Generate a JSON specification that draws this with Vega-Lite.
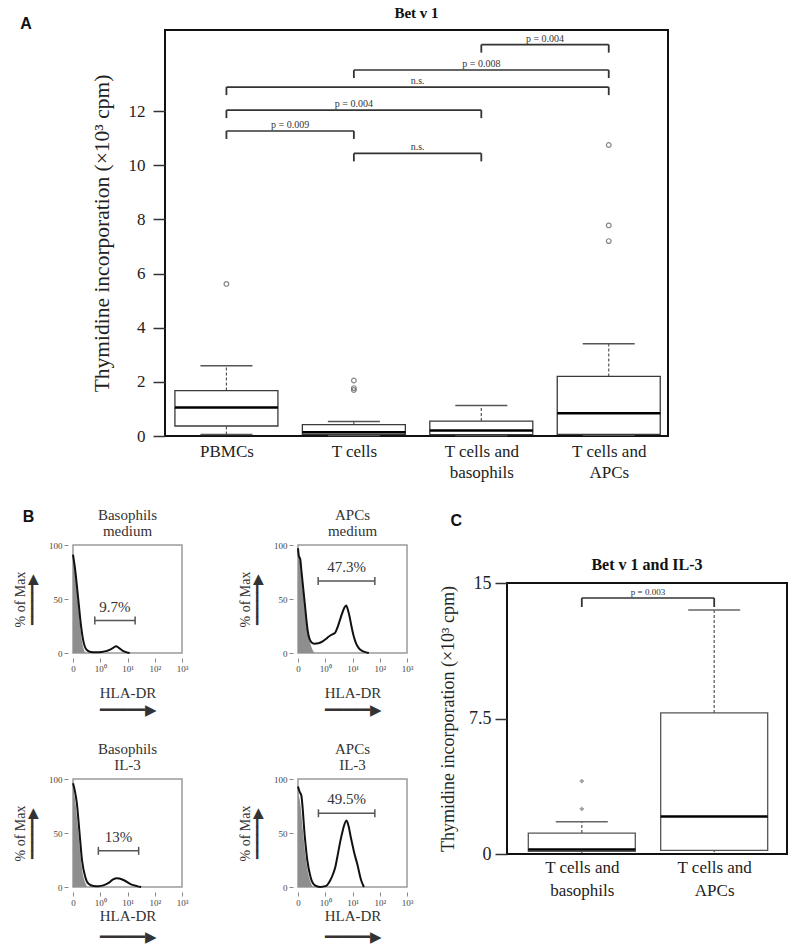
{
  "$schema": "https://vega.github.io/schema/vega-lite/v6.json",
  "background": "white",
  "padding": {"top": 5, "left": 12, "right": 5, "bottom": 4},
  "config": {
    "font": "Liberation Serif",
    "view": {"stroke": "#111", "strokeWidth": 2},
    "axis": {"grid": false, "domain": false, "labelColor": "#222", "titleColor": "#222", "tickColor": "#333", "labelFont": "Liberation Serif", "titleFont": "Liberation Serif", "titleFontWeight": "normal"},
    "title": {"font": "Liberation Serif", "fontWeight": "bold", "color": "#111"},
    "text": {"font": "Liberation Serif"}
  },
  "datasets": {
    "boxA": [
      {"cat": 1, "lo": 0.06, "q1": 0.37, "med": 1.05, "q3": 1.68, "hi": 2.6},
      {"cat": 2, "lo": 0.02, "q1": 0.06, "med": 0.14, "q3": 0.42, "hi": 0.54},
      {"cat": 3, "lo": 0.02, "q1": 0.05, "med": 0.2, "q3": 0.55, "hi": 1.13},
      {"cat": 4, "lo": 0.03, "q1": 0.06, "med": 0.84, "q3": 2.2, "hi": 3.41}
    ],
    "outA": [
      {"cat": 1, "v": 5.62}, {"cat": 2, "v": 1.7}, {"cat": 2, "v": 1.77}, {"cat": 2, "v": 2.05},
      {"cat": 4, "v": 7.2}, {"cat": 4, "v": 7.78}, {"cat": 4, "v": 10.75}
    ],
    "brA": [
      {"x1": 3, "x2": 4, "y": 14.46, "label": "p = 0.004"},
      {"x1": 2, "x2": 4, "y": 13.52, "label": "p = 0.008"},
      {"x1": 1, "x2": 4, "y": 12.89, "label": "n.s."},
      {"x1": 1, "x2": 3, "y": 12.04, "label": "p = 0.004"},
      {"x1": 1, "x2": 2, "y": 11.27, "label": "p = 0.009"},
      {"x1": 2, "x2": 3, "y": 10.44, "label": "n.s."}
    ],
    "boxC": [
      {"cat": 1, "lo": 0.05, "q1": 0.15, "med": 0.25, "q3": 1.16, "hi": 1.79},
      {"cat": 2, "lo": 0.1, "q1": 0.2, "med": 2.08, "q3": 7.81, "hi": 13.5}
    ],
    "outC": [{"cat": 1, "v": 2.5}, {"cat": 1, "v": 4.03}],
    "brC": [{"x1": 1, "x2": 2, "y": 14.17, "label": "p = 0.003"}],
    "bm_test": [{"x":0,"y":91},{"x":0.08,"y":77},{"x":0.2,"y":48},{"x":0.29,"y":26},{"x":0.38,"y":11},{"x":0.5,"y":3},{"x":0.65,"y":1},{"x":0.85,"y":0.6},{"x":1.05,"y":1},{"x":1.25,"y":2},{"x":1.4,"y":3.5},{"x":1.5,"y":5.3},{"x":1.58,"y":6.2},{"x":1.68,"y":4.8},{"x":1.8,"y":2.5},{"x":1.95,"y":0.8},{"x":2.08,"y":0}],
    "bm_iso": [{"x":0,"y":88},{"x":0.08,"y":75},{"x":0.18,"y":48},{"x":0.26,"y":26},{"x":0.33,"y":11},{"x":0.4,"y":3},{"x":0.46,"y":0}],
    "am_test": [{"x":0,"y":97},{"x":0.03,"y":90},{"x":0.08,"y":87},{"x":0.13,"y":75},{"x":0.24,"y":48},{"x":0.36,"y":20},{"x":0.49,"y":10},{"x":0.6,"y":8.6},{"x":0.75,"y":9},{"x":0.92,"y":11},{"x":1.05,"y":13.5},{"x":1.17,"y":16},{"x":1.28,"y":17.5},{"x":1.36,"y":18.6},{"x":1.44,"y":23},{"x":1.52,"y":29},{"x":1.61,"y":36},{"x":1.7,"y":42},{"x":1.77,"y":44},{"x":1.83,"y":40},{"x":1.89,"y":34},{"x":1.96,"y":25},{"x":2.04,"y":16},{"x":2.13,"y":9},{"x":2.23,"y":4.5},{"x":2.35,"y":2},{"x":2.48,"y":0.8},{"x":2.6,"y":0}],
    "am_iso": [{"x":0,"y":90},{"x":0.05,"y":88},{"x":0.12,"y":72},{"x":0.22,"y":48},{"x":0.32,"y":25},{"x":0.42,"y":12},{"x":0.5,"y":5},{"x":0.58,"y":1},{"x":0.62,"y":0}],
    "bi_test": [{"x":0,"y":96},{"x":0.06,"y":90},{"x":0.14,"y":78},{"x":0.24,"y":50},{"x":0.33,"y":25},{"x":0.45,"y":9.3},{"x":0.57,"y":3},{"x":0.75,"y":1},{"x":0.95,"y":0.8},{"x":1.11,"y":1.5},{"x":1.29,"y":3.5},{"x":1.47,"y":7},{"x":1.6,"y":8.2},{"x":1.7,"y":7.8},{"x":1.89,"y":6},{"x":2.13,"y":2.5},{"x":2.35,"y":0.8},{"x":2.5,"y":0}],
    "bi_iso": [{"x":0,"y":93},{"x":0.08,"y":80},{"x":0.18,"y":55},{"x":0.27,"y":30},{"x":0.36,"y":12},{"x":0.45,"y":4},{"x":0.52,"y":0}],
    "ai_test": [{"x":0,"y":93},{"x":0.06,"y":88},{"x":0.12,"y":85},{"x":0.25,"y":46.6},{"x":0.34,"y":25},{"x":0.46,"y":9.3},{"x":0.62,"y":1.5},{"x":0.81,"y":0},{"x":1.03,"y":1},{"x":1.18,"y":6},{"x":1.3,"y":13},{"x":1.37,"y":18.6},{"x":1.46,"y":30},{"x":1.55,"y":42},{"x":1.62,"y":50},{"x":1.68,"y":56},{"x":1.78,"y":61.5},{"x":1.86,"y":56},{"x":1.93,"y":47},{"x":1.99,"y":40},{"x":2.08,"y":30},{"x":2.17,"y":21.7},{"x":2.32,"y":6},{"x":2.42,"y":0}],
    "ai_iso": [{"x":0,"y":88},{"x":0.08,"y":78},{"x":0.18,"y":52},{"x":0.28,"y":28},{"x":0.38,"y":12},{"x":0.47,"y":4},{"x":0.55,"y":0}],
    "gates": [
      {"panel": "bm", "x1": 0.8, "x2": 2.28, "y": 30, "label": "9.7%"},
      {"panel": "am", "x1": 0.74, "x2": 2.82, "y": 66.6, "label": "47.3%"},
      {"panel": "bi", "x1": 0.93, "x2": 2.41, "y": 33.5, "label": "13%"},
      {"panel": "ai", "x1": 0.75, "x2": 2.82, "y": 68.3, "label": "49.5%"}
    ]
  },
  "columns": 1,
  "align": "none",
  "spacing": 25,
  "concat": [
    {
      "title": {"text": "A", "anchor": "start", "frame": "bounds", "font": "Liberation Sans", "fontSize": 16, "fontWeight": "bold", "color": "#111", "dx": -52.7, "dy": 27, "offset": 0},
      "spacing": 16,
      "hconcat": [
        {"width": 1, "height": 1, "view": {"stroke": null}, "data": {"values": []}, "mark": "point"},
        {
          "width": 503, "height": 406,
          "title": {"text": "Bet v 1", "fontSize": 15, "offset": 9},
          "layer": [
            {"data": {"name": "boxA"},
             "mark": {"type": "rule", "color": "#555", "strokeWidth": 1.2, "strokeDash": [3, 2]},
             "encoding": {
               "x": {"field": "cat", "type": "quantitative", "scale": {"domain": [0.518, 4.465], "nice": false, "zero": false},
                     "axis": {"values": [1, 2, 3, 4], "tickCount": 10, "ticks": false, "labelPadding": 7, "labelFontSize": 17, "labelLineHeight": 21.5, "labelOverlap": false, "labelFlush": false, "title": null,
                              "labelExpr": "datum.value == 1 ? 'PBMCs' : datum.value == 2 ? 'T cells' : datum.value == 3 ? ['T  cells and', 'basophils'] : ['T  cells and', 'APCs']"}},
               "y": {"field": "q3", "type": "quantitative", "scale": {"domain": [0, 15], "nice": false},
                     "axis": {"values": [0, 2, 4, 6, 8, 10, 12], "tickCount": 20, "tickSize": 12, "tickWidth": 1.5, "labelPadding": 8, "labelFontSize": 17, "title": "Thymidine incorporation (×10³ cpm)", "titleFontSize": 21.5, "titlePadding": 15}},
               "y2": {"field": "hi"}
             }},
            {"data": {"name": "boxA"},
             "mark": {"type": "rule", "color": "#555", "strokeWidth": 1.2, "strokeDash": [3, 2]},
             "encoding": {"x": {"field": "cat", "type": "quantitative"}, "y": {"field": "lo", "type": "quantitative"}, "y2": {"field": "q1"}}},
            {"data": {"name": "boxA"},
             "mark": {"type": "rule", "color": "#555", "strokeWidth": 1.5, "xOffset": -26, "x2Offset": 26},
             "encoding": {"x": {"field": "cat", "type": "quantitative"}, "x2": {"field": "cat"}, "y": {"field": "hi", "type": "quantitative"}}},
            {"data": {"name": "boxA"},
             "mark": {"type": "rule", "color": "#555", "strokeWidth": 1.5, "xOffset": -26, "x2Offset": 26},
             "encoding": {"x": {"field": "cat", "type": "quantitative"}, "x2": {"field": "cat"}, "y": {"field": "lo", "type": "quantitative"}}},
            {"data": {"name": "boxA"},
             "mark": {"type": "rect", "fill": "white", "stroke": "#3a3a3a", "strokeWidth": 1.3, "xOffset": -51.5, "x2Offset": 51.5},
             "encoding": {"x": {"field": "cat", "type": "quantitative"}, "x2": {"field": "cat"}, "y": {"field": "q1", "type": "quantitative"}, "y2": {"field": "q3"}}},
            {"data": {"name": "boxA"},
             "mark": {"type": "rule", "color": "#000", "strokeWidth": 2.5, "xOffset": -51.5, "x2Offset": 51.5},
             "encoding": {"x": {"field": "cat", "type": "quantitative"}, "x2": {"field": "cat"}, "y": {"field": "med", "type": "quantitative"}}},
            {"data": {"name": "outA"},
             "mark": {"type": "point", "shape": "circle", "size": 22, "color": "#555", "strokeWidth": 1.2, "filled": false},
             "encoding": {"x": {"field": "cat", "type": "quantitative"}, "y": {"field": "v", "type": "quantitative"}}},
            {"data": {"name": "brA"},
             "mark": {"type": "rule", "color": "#333", "strokeWidth": 1.6},
             "encoding": {"x": {"field": "x1", "type": "quantitative"}, "x2": {"field": "x2"}, "y": {"field": "y", "type": "quantitative"}}},
            {"data": {"name": "brA"},
             "mark": {"type": "rule", "color": "#333", "strokeWidth": 1.8, "y2Offset": 8},
             "encoding": {"x": {"field": "x1", "type": "quantitative"}, "y": {"field": "y", "type": "quantitative"}, "y2": {"field": "y"}}},
            {"data": {"name": "brA"},
             "mark": {"type": "rule", "color": "#333", "strokeWidth": 1.8, "y2Offset": 8},
             "encoding": {"x": {"field": "x2", "type": "quantitative"}, "y": {"field": "y", "type": "quantitative"}, "y2": {"field": "y"}}},
            {"data": {"name": "brA"},
             "transform": [{"calculate": "(datum.x1 + datum.x2) / 2", "as": "xm"}],
             "mark": {"type": "text", "fontSize": 10, "color": "#333", "baseline": "bottom", "dy": -1},
             "encoding": {"x": {"field": "xm", "type": "quantitative"}, "y": {"field": "y", "type": "quantitative"}, "text": {"field": "label"}}}
          ]
        }
      ]
    },
    {
      "columns": 2,
      "align": "none",
      "spacing": 24,
      "concat": [
        {
          "title": {"text": "B", "anchor": "start", "frame": "bounds", "font": "Liberation Sans", "fontSize": 16, "fontWeight": "bold", "color": "#111", "dx": 10, "dy": 18, "offset": 0},
          "columns": 2,
          "spacing": {"column": 48, "row": 23},
          "concat": [
            {
              "width": 109, "height": 108,
              "view": {"stroke": "#9a9a9a", "strokeWidth": 1.5},
              "title": {"text": ["Basophils", "medium"], "fontSize": 15, "fontWeight": "normal", "color": "#333", "lineHeight": 16.6, "offset": 1.5},
              "layer": [
                {"data": {"name": "bm_iso"}, "mark": {"type": "area", "color": "#8e8e8e", "interpolate": "monotone"},
                 "encoding": {
                   "x": {"field": "x", "type": "quantitative", "scale": {"domain": [0, 4], "nice": false},
                         "axis": {"values": [0, 1, 2, 3, 4], "tickCount": 10, "labelExpr": "['0','10⁰','10¹','10²','10³'][datum.value]", "labelFontSize": 9, "labelColor": "#444", "tickSize": 4, "tickColor": "#888", "offset": 5, "labelPadding": 2, "labelFlush": false, "labelOverlap": false, "title": ["HLA-DR", "━━━━━▶"], "titleFontSize": 15, "titleColor": "#333", "titlePadding": 12, "titleLineHeight": 17}},
                   "y": {"field": "y", "type": "quantitative", "scale": {"domain": [0, 100], "nice": false},
                         "axis": {"values": [0, 50, 100], "tickCount": 10, "labelFontSize": 9, "labelColor": "#444", "tickSize": 4, "tickColor": "#888", "offset": 5, "labelPadding": 2, "title": ["% of Max", "━━━━━▶"], "titleFontSize": 14, "titleColor": "#333", "titlePadding": 9, "titleLineHeight": 12}}
                 }},
                {"data": {"name": "bm_test"}, "mark": {"type": "line", "color": "#111", "strokeWidth": 2, "interpolate": "monotone"},
                 "encoding": {"x": {"field": "x", "type": "quantitative"}, "y": {"field": "y", "type": "quantitative"}}},
                {"data": {"name": "gates"}, "transform": [{"filter": "datum.panel == 'bm'"}], "mark": {"type": "rule", "color": "#555", "strokeWidth": 1.5},
                 "encoding": {"x": {"field": "x1", "type": "quantitative"}, "x2": {"field": "x2"}, "y": {"field": "y", "type": "quantitative"}}},
                {"data": {"name": "gates"}, "transform": [{"filter": "datum.panel == 'bm'"}], "mark": {"type": "rule", "color": "#555", "strokeWidth": 1.5, "yOffset": -4, "y2Offset": 4},
                 "encoding": {"x": {"field": "x1", "type": "quantitative"}, "y": {"field": "y", "type": "quantitative"}, "y2": {"field": "y"}}},
                {"data": {"name": "gates"}, "transform": [{"filter": "datum.panel == 'bm'"}], "mark": {"type": "rule", "color": "#555", "strokeWidth": 1.5, "yOffset": -4, "y2Offset": 4},
                 "encoding": {"x": {"field": "x2", "type": "quantitative"}, "y": {"field": "y", "type": "quantitative"}, "y2": {"field": "y"}}},
                {"data": {"name": "gates"}, "transform": [{"filter": "datum.panel == 'bm'"}, {"calculate": "(datum.x1 + datum.x2) / 2", "as": "xm"}],
                 "mark": {"type": "text", "fontSize": 15, "color": "#333", "baseline": "bottom", "dy": -6},
                 "encoding": {"x": {"field": "xm", "type": "quantitative"}, "y": {"field": "y", "type": "quantitative"}, "text": {"field": "label"}}}
              ]
            },
            {
              "width": 109, "height": 108,
              "view": {"stroke": "#9a9a9a", "strokeWidth": 1.5},
              "title": {"text": ["APCs", "medium"], "fontSize": 15, "fontWeight": "normal", "color": "#333", "lineHeight": 16.6, "offset": 1.5},
              "layer": [
                {"data": {"name": "am_iso"}, "mark": {"type": "area", "color": "#8e8e8e", "interpolate": "monotone"},
                 "encoding": {
                   "x": {"field": "x", "type": "quantitative", "scale": {"domain": [0, 4], "nice": false},
                         "axis": {"values": [0, 1, 2, 3, 4], "tickCount": 10, "labelExpr": "['0','10⁰','10¹','10²','10³'][datum.value]", "labelFontSize": 9, "labelColor": "#444", "tickSize": 4, "tickColor": "#888", "offset": 5, "labelPadding": 2, "labelFlush": false, "labelOverlap": false, "title": ["HLA-DR", "━━━━━▶"], "titleFontSize": 15, "titleColor": "#333", "titlePadding": 12, "titleLineHeight": 17}},
                   "y": {"field": "y", "type": "quantitative", "scale": {"domain": [0, 100], "nice": false},
                         "axis": {"values": [0, 50, 100], "tickCount": 10, "labelFontSize": 9, "labelColor": "#444", "tickSize": 4, "tickColor": "#888", "offset": 5, "labelPadding": 2, "title": ["% of Max", "━━━━━▶"], "titleFontSize": 14, "titleColor": "#333", "titlePadding": 9, "titleLineHeight": 12}}
                 }},
                {"data": {"name": "am_test"}, "mark": {"type": "line", "color": "#111", "strokeWidth": 2, "interpolate": "monotone"},
                 "encoding": {"x": {"field": "x", "type": "quantitative"}, "y": {"field": "y", "type": "quantitative"}}},
                {"data": {"name": "gates"}, "transform": [{"filter": "datum.panel == 'am'"}], "mark": {"type": "rule", "color": "#555", "strokeWidth": 1.5},
                 "encoding": {"x": {"field": "x1", "type": "quantitative"}, "x2": {"field": "x2"}, "y": {"field": "y", "type": "quantitative"}}},
                {"data": {"name": "gates"}, "transform": [{"filter": "datum.panel == 'am'"}], "mark": {"type": "rule", "color": "#555", "strokeWidth": 1.5, "yOffset": -4, "y2Offset": 4},
                 "encoding": {"x": {"field": "x1", "type": "quantitative"}, "y": {"field": "y", "type": "quantitative"}, "y2": {"field": "y"}}},
                {"data": {"name": "gates"}, "transform": [{"filter": "datum.panel == 'am'"}], "mark": {"type": "rule", "color": "#555", "strokeWidth": 1.5, "yOffset": -4, "y2Offset": 4},
                 "encoding": {"x": {"field": "x2", "type": "quantitative"}, "y": {"field": "y", "type": "quantitative"}, "y2": {"field": "y"}}},
                {"data": {"name": "gates"}, "transform": [{"filter": "datum.panel == 'am'"}, {"calculate": "(datum.x1 + datum.x2) / 2", "as": "xm"}],
                 "mark": {"type": "text", "fontSize": 15, "color": "#333", "baseline": "bottom", "dy": -6},
                 "encoding": {"x": {"field": "xm", "type": "quantitative"}, "y": {"field": "y", "type": "quantitative"}, "text": {"field": "label"}}}
              ]
            },
            {
              "width": 109, "height": 108,
              "view": {"stroke": "#9a9a9a", "strokeWidth": 1.5},
              "title": {"text": ["Basophils", "IL-3"], "fontSize": 15, "fontWeight": "normal", "color": "#333", "lineHeight": 16.6, "offset": 1.5},
              "layer": [
                {"data": {"name": "bi_iso"}, "mark": {"type": "area", "color": "#8e8e8e", "interpolate": "monotone"},
                 "encoding": {
                   "x": {"field": "x", "type": "quantitative", "scale": {"domain": [0, 4], "nice": false},
                         "axis": {"values": [0, 1, 2, 3, 4], "tickCount": 10, "labelExpr": "['0','10⁰','10¹','10²','10³'][datum.value]", "labelFontSize": 9, "labelColor": "#444", "tickSize": 4, "tickColor": "#888", "offset": 5, "labelPadding": 2, "labelFlush": false, "labelOverlap": false, "title": ["HLA-DR", "━━━━━▶"], "titleFontSize": 15, "titleColor": "#333", "titlePadding": 1, "titleLineHeight": 21}},
                   "y": {"field": "y", "type": "quantitative", "scale": {"domain": [0, 100], "nice": false},
                         "axis": {"values": [0, 50, 100], "tickCount": 10, "labelFontSize": 9, "labelColor": "#444", "tickSize": 4, "tickColor": "#888", "offset": 5, "labelPadding": 2, "title": ["% of Max", "━━━━━▶"], "titleFontSize": 14, "titleColor": "#333", "titlePadding": 9, "titleLineHeight": 12}}
                 }},
                {"data": {"name": "bi_test"}, "mark": {"type": "line", "color": "#111", "strokeWidth": 2, "interpolate": "monotone"},
                 "encoding": {"x": {"field": "x", "type": "quantitative"}, "y": {"field": "y", "type": "quantitative"}}},
                {"data": {"name": "gates"}, "transform": [{"filter": "datum.panel == 'bi'"}], "mark": {"type": "rule", "color": "#555", "strokeWidth": 1.5},
                 "encoding": {"x": {"field": "x1", "type": "quantitative"}, "x2": {"field": "x2"}, "y": {"field": "y", "type": "quantitative"}}},
                {"data": {"name": "gates"}, "transform": [{"filter": "datum.panel == 'bi'"}], "mark": {"type": "rule", "color": "#555", "strokeWidth": 1.5, "yOffset": -4, "y2Offset": 4},
                 "encoding": {"x": {"field": "x1", "type": "quantitative"}, "y": {"field": "y", "type": "quantitative"}, "y2": {"field": "y"}}},
                {"data": {"name": "gates"}, "transform": [{"filter": "datum.panel == 'bi'"}], "mark": {"type": "rule", "color": "#555", "strokeWidth": 1.5, "yOffset": -4, "y2Offset": 4},
                 "encoding": {"x": {"field": "x2", "type": "quantitative"}, "y": {"field": "y", "type": "quantitative"}, "y2": {"field": "y"}}},
                {"data": {"name": "gates"}, "transform": [{"filter": "datum.panel == 'bi'"}, {"calculate": "(datum.x1 + datum.x2) / 2", "as": "xm"}],
                 "mark": {"type": "text", "fontSize": 15, "color": "#333", "baseline": "bottom", "dy": -6},
                 "encoding": {"x": {"field": "xm", "type": "quantitative"}, "y": {"field": "y", "type": "quantitative"}, "text": {"field": "label"}}}
              ]
            },
            {
              "width": 109, "height": 108,
              "view": {"stroke": "#9a9a9a", "strokeWidth": 1.5},
              "title": {"text": ["APCs", "IL-3"], "fontSize": 15, "fontWeight": "normal", "color": "#333", "lineHeight": 16.6, "offset": 1.5},
              "layer": [
                {"data": {"name": "ai_iso"}, "mark": {"type": "area", "color": "#8e8e8e", "interpolate": "monotone"},
                 "encoding": {
                   "x": {"field": "x", "type": "quantitative", "scale": {"domain": [0, 4], "nice": false},
                         "axis": {"values": [0, 1, 2, 3, 4], "tickCount": 10, "labelExpr": "['0','10⁰','10¹','10²','10³'][datum.value]", "labelFontSize": 9, "labelColor": "#444", "tickSize": 4, "tickColor": "#888", "offset": 5, "labelPadding": 2, "labelFlush": false, "labelOverlap": false, "title": ["HLA-DR", "━━━━━▶"], "titleFontSize": 15, "titleColor": "#333", "titlePadding": 1, "titleLineHeight": 21}},
                   "y": {"field": "y", "type": "quantitative", "scale": {"domain": [0, 100], "nice": false},
                         "axis": {"values": [0, 50, 100], "tickCount": 10, "labelFontSize": 9, "labelColor": "#444", "tickSize": 4, "tickColor": "#888", "offset": 5, "labelPadding": 2, "title": ["% of Max", "━━━━━▶"], "titleFontSize": 14, "titleColor": "#333", "titlePadding": 9, "titleLineHeight": 12}}
                 }},
                {"data": {"name": "ai_test"}, "mark": {"type": "line", "color": "#111", "strokeWidth": 2, "interpolate": "monotone"},
                 "encoding": {"x": {"field": "x", "type": "quantitative"}, "y": {"field": "y", "type": "quantitative"}}},
                {"data": {"name": "gates"}, "transform": [{"filter": "datum.panel == 'ai'"}], "mark": {"type": "rule", "color": "#555", "strokeWidth": 1.5},
                 "encoding": {"x": {"field": "x1", "type": "quantitative"}, "x2": {"field": "x2"}, "y": {"field": "y", "type": "quantitative"}}},
                {"data": {"name": "gates"}, "transform": [{"filter": "datum.panel == 'ai'"}], "mark": {"type": "rule", "color": "#555", "strokeWidth": 1.5, "yOffset": -4, "y2Offset": 4},
                 "encoding": {"x": {"field": "x1", "type": "quantitative"}, "y": {"field": "y", "type": "quantitative"}, "y2": {"field": "y"}}},
                {"data": {"name": "gates"}, "transform": [{"filter": "datum.panel == 'ai'"}], "mark": {"type": "rule", "color": "#555", "strokeWidth": 1.5, "yOffset": -4, "y2Offset": 4},
                 "encoding": {"x": {"field": "x2", "type": "quantitative"}, "y": {"field": "y", "type": "quantitative"}, "y2": {"field": "y"}}},
                {"data": {"name": "gates"}, "transform": [{"filter": "datum.panel == 'ai'"}, {"calculate": "(datum.x1 + datum.x2) / 2", "as": "xm"}],
                 "mark": {"type": "text", "fontSize": 15, "color": "#333", "baseline": "bottom", "dy": -6},
                 "encoding": {"x": {"field": "xm", "type": "quantitative"}, "y": {"field": "y", "type": "quantitative"}, "text": {"field": "label"}}}
              ]
            }
          ]
        },
        {
          "title": {"text": "C", "anchor": "start", "frame": "bounds", "font": "Liberation Sans", "fontSize": 16, "fontWeight": "bold", "color": "#111", "dx": 12, "offset": 16},
          "spacing": 10,
          "vconcat": [
            {"width": 1, "height": 1, "view": {"stroke": null}, "data": {"values": []}, "mark": "point"},
            {
              "width": 280, "height": 271,
              "title": {"text": "Bet v 1 and IL-3", "fontSize": 16, "offset": 1},
              "layer": [
                {"data": {"name": "boxC"},
                 "mark": {"type": "rule", "color": "#555", "strokeWidth": 1.2, "strokeDash": [3, 2]},
                 "encoding": {
                   "x": {"field": "cat", "type": "quantitative", "scale": {"domain": [0.435, 2.55], "nice": false, "zero": false},
                         "axis": {"values": [1, 2], "tickCount": 10, "ticks": false, "labelPadding": 5, "labelFontSize": 17, "labelLineHeight": 23, "labelOverlap": false, "labelFlush": false, "title": null,
                                  "labelExpr": "datum.value == 1 ? ['T cells and', 'basophils'] : ['T cells and', 'APCs']"}},
                   "y": {"field": "q3", "type": "quantitative", "scale": {"domain": [0, 15], "nice": false},
                         "axis": {"values": [0, 7.5, 15], "tickCount": 10, "format": "~g", "tickSize": 12, "tickWidth": 1.5, "labelPadding": 4, "labelFontSize": 18, "title": "Thymidine incorporation (×10³ cpm)", "titleFontSize": 18, "titlePadding": 11}},
                   "y2": {"field": "hi"}
                 }},
                {"data": {"name": "boxC"},
                 "mark": {"type": "rule", "color": "#555", "strokeWidth": 1.2, "strokeDash": [3, 2]},
                 "encoding": {"x": {"field": "cat", "type": "quantitative"}, "y": {"field": "lo", "type": "quantitative"}, "y2": {"field": "q1"}}},
                {"data": {"name": "boxC"},
                 "mark": {"type": "rule", "color": "#666", "strokeWidth": 1.5, "xOffset": -26, "x2Offset": 26},
                 "encoding": {"x": {"field": "cat", "type": "quantitative"}, "x2": {"field": "cat"}, "y": {"field": "hi", "type": "quantitative"}}},
                {"data": {"name": "boxC"},
                 "mark": {"type": "rect", "fill": "white", "stroke": "#555", "strokeWidth": 1.3, "xOffset": -53.5, "x2Offset": 53.5},
                 "encoding": {"x": {"field": "cat", "type": "quantitative"}, "x2": {"field": "cat"}, "y": {"field": "q1", "type": "quantitative"}, "y2": {"field": "q3"}}},
                {"data": {"name": "boxC"},
                 "mark": {"type": "rule", "color": "#000", "strokeWidth": 2.5, "xOffset": -53.5, "x2Offset": 53.5},
                 "encoding": {"x": {"field": "cat", "type": "quantitative"}, "x2": {"field": "cat"}, "y": {"field": "med", "type": "quantitative"}}},
                {"data": {"name": "outC"},
                 "mark": {"type": "point", "shape": "cross", "size": 18, "color": "#777", "filled": true},
                 "encoding": {"x": {"field": "cat", "type": "quantitative"}, "y": {"field": "v", "type": "quantitative"}}},
                {"data": {"name": "brC"},
                 "mark": {"type": "rule", "color": "#333", "strokeWidth": 1.6},
                 "encoding": {"x": {"field": "x1", "type": "quantitative"}, "x2": {"field": "x2"}, "y": {"field": "y", "type": "quantitative"}}},
                {"data": {"name": "brC"},
                 "mark": {"type": "rule", "color": "#333", "strokeWidth": 1.8, "y2Offset": 9},
                 "encoding": {"x": {"field": "x1", "type": "quantitative"}, "y": {"field": "y", "type": "quantitative"}, "y2": {"field": "y"}}},
                {"data": {"name": "brC"},
                 "mark": {"type": "rule", "color": "#333", "strokeWidth": 1.8, "y2Offset": 9},
                 "encoding": {"x": {"field": "x2", "type": "quantitative"}, "y": {"field": "y", "type": "quantitative"}, "y2": {"field": "y"}}},
                {"data": {"name": "brC"},
                 "transform": [{"calculate": "(datum.x1 + datum.x2) / 2", "as": "xm"}],
                 "mark": {"type": "text", "fontSize": 9, "color": "#333", "baseline": "bottom", "dy": -1},
                 "encoding": {"x": {"field": "xm", "type": "quantitative"}, "y": {"field": "y", "type": "quantitative"}, "text": {"field": "label"}}}
              ]
            }
          ]
        }
      ]
    }
  ]
}
